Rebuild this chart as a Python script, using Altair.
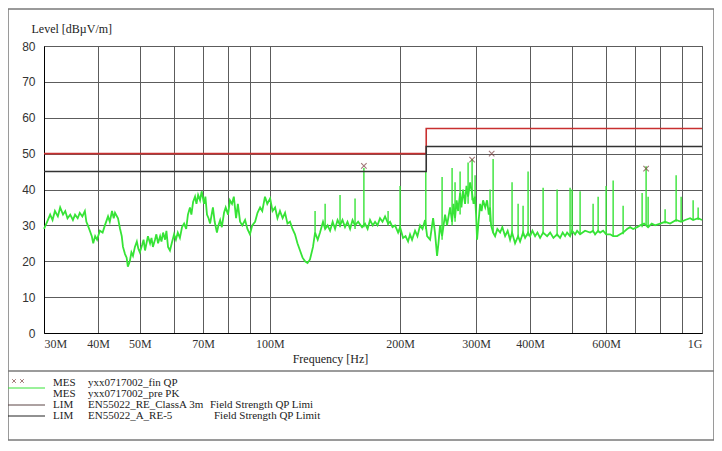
import altair as alt
import pandas as pd

# ---------------- data ----------------
# PK pre-scan trace (frequency in MHz, level in dBuV/m)
freq_mhz = [30.0, 30.5, 31.0, 31.4, 31.8, 32.3, 32.7, 33.2, 33.6, 34.0, 34.5, 35.0, 35.4, 35.9, 36.3, 36.8,
            37.3, 37.6, 37.9, 38.3, 38.7, 39.0, 39.4, 39.8, 40.4, 41.0, 41.5, 42.2, 42.6, 43.1, 43.5, 43.8,
            44.5, 45.0, 45.4, 45.7, 46.2, 46.6, 46.9, 47.4, 47.8, 48.2, 48.7, 49.2, 49.6, 50.0, 50.6, 51.0,
            51.4, 51.8, 52.2, 52.8, 53.2, 53.6, 54.2, 54.6, 55.1, 55.7, 56.1, 56.6, 57.2, 57.6, 58.1, 58.7,
            59.4, 60.0, 60.6, 61.2, 61.9, 62.6, 63.3, 64.0, 64.6, 65.3, 65.8, 66.4, 67.1, 67.6, 68.2, 68.9,
            69.5, 70.4, 70.9, 71.5, 72.1, 72.7, 73.3, 73.8, 74.5, 75.4, 76.0, 76.7, 77.4, 78.3, 79.0, 80.0,
            80.8, 81.7, 82.5, 83.5, 84.3, 85.3, 86.3, 87.6, 88.7, 89.9, 91.0, 92.4, 93.6, 94.9, 96.0, 97.4,
            98.6, 100.1, 101.4, 102.8, 104.1, 105.5, 107.0, 108.4, 109.8, 111.3, 112.8, 114.3, 115.8, 117.4,
            119.0, 120.6, 122.2, 123.8, 125.8, 127.2, 129.0, 130.6, 132.7, 134.2, 136.0, 137.8, 139.7, 141.5,
            143.4, 145.3, 147.2, 149.2, 151.2, 153.3, 155.3, 157.4, 160.0, 163.4, 166.0, 168.3, 170.5, 173.0,
            175.1, 177.4, 179.8, 182.2, 184.7, 187.7, 189.7, 192.2, 194.8, 198.0, 200.1, 203.3, 206.0, 208.8,
            211.0, 213.3, 216.7, 219.5, 222.6, 225.5, 228.6, 231.1, 234.8, 238.6, 241.0, 243.7, 245.5, 247.6,
            250.3, 254.3, 257.0, 261.2, 264.0, 266.0, 268.2, 270.5, 272.6, 275.5, 277.5, 279.9, 282.9, 285.0,
            287.5, 290.6, 293.7, 296.0, 298.4, 300.0, 301.6, 304.0, 306.5, 309.0, 311.4, 315.0, 318.1, 321.0,
            323.2, 325.0, 328.5, 332.0, 336.0, 341.0, 345.0, 350.2, 355.0, 359.6, 363.4, 369.3, 375.3, 379.3,
            385.4, 389.6, 395.8, 400.1, 405.0, 410.9, 416.0, 422.0, 428.8, 438.1, 445.2, 453.0, 462.0, 469.4,
            476.0, 482.1, 487.3, 495.1, 500.4, 508.5, 514.0, 522.2, 536.3, 550.9, 559.7, 565.7, 574.9, 581.0,
            590.4, 599.9, 612.9, 622.8, 636.2, 646.3, 656.8, 670.9, 681.7, 692.7, 707.7, 719.1, 734.5, 750.4,
            765.0, 778.9, 800.0, 821.5, 843.7, 871.2, 894.7, 914.0, 938.7, 953.8, 979.6, 1000.0]
level_pk = [29.0, 31.0, 33.0, 31.5, 34.0, 32.5, 35.0, 33.0, 34.0, 32.0, 33.0, 31.5, 33.0, 32.0, 33.5, 32.5,
            34.0, 31.0, 30.0, 28.5, 27.0, 25.0, 27.0, 26.0, 28.5, 28.0, 30.0, 32.5, 31.0, 34.0, 32.0, 33.5,
            32.0, 29.0, 27.0, 24.0, 22.0, 21.0, 18.5, 20.0, 22.5, 21.5, 24.0, 25.5, 23.5, 22.5, 24.5, 26.0,
            23.0, 25.0, 27.0, 25.0, 26.5, 24.0, 26.0, 27.5, 25.0, 27.0, 25.5, 28.0, 26.0, 28.5, 24.0, 23.0,
            25.5, 27.5, 26.0, 28.0, 26.5, 29.5, 30.5, 29.0, 33.0, 35.0, 33.0, 36.5, 38.0, 36.0, 38.5, 37.0,
            39.5, 36.0, 38.0, 33.0, 32.0, 30.5, 33.0, 35.0, 31.0, 28.0, 30.0, 31.5, 29.5, 33.5, 35.0, 33.0,
            37.0, 36.0, 38.0, 32.0, 36.0, 31.0, 30.0, 31.5, 29.0, 27.5, 30.0, 31.0, 33.5, 35.0, 34.0, 38.0,
            36.0, 37.5, 34.0, 35.0, 32.0, 34.0, 32.0, 33.5, 30.5, 31.0, 29.0, 27.5, 25.0, 23.0,
            21.0, 20.0, 19.5, 20.5, 24.0, 28.0, 26.0, 28.0, 31.0, 29.0, 30.0, 28.5, 31.0, 29.0,
            31.5, 30.0, 31.5, 29.5, 31.0, 29.0, 31.5, 30.0, 31.0, 29.5, 30.5, 29.0, 31.5, 30.0,
            31.0, 30.0, 32.0, 31.0, 32.5, 30.5, 31.0, 29.5, 30.0, 28.0, 29.5, 26.5, 27.0, 25.5,
            27.5, 26.0, 28.5, 27.0, 30.0, 29.0, 31.5, 27.0, 26.0, 32.0, 28.0, 21.5, 25.0, 30.0,
            27.0, 33.0, 30.0, 35.0, 31.0, 36.0, 32.0, 37.0, 34.0, 39.0, 35.0, 40.0, 36.0, 41.0,
            38.0, 42.0, 39.0, 36.0, 38.0, 33.0, 26.0, 31.0, 36.0, 34.0, 37.0, 35.0, 37.0, 33.0,
            35.0, 30.0, 28.0, 27.0, 29.0, 28.0, 29.5, 27.0, 28.5, 26.0, 28.0, 25.0, 27.0, 25.5,
            28.0, 26.5, 28.0, 27.0, 28.5, 27.0, 28.0, 26.5, 28.0, 27.0, 28.0, 26.5, 27.5, 26.5,
            28.0, 27.0, 28.0, 27.0, 28.5, 27.5, 28.5, 27.5, 28.5, 28.0, 28.5, 27.5, 28.5, 28.0,
            28.5, 27.5, 27.5, 27.0, 27.0, 27.5, 28.0, 29.0, 29.5, 29.0, 29.5, 30.0, 30.5, 29.5,
            30.5, 30.0, 30.5, 31.0, 30.5, 31.5, 31.0, 31.5, 32.0, 31.5, 32.0, 31.5]

# narrow emission spikes of the PK trace
spike_freq = [127.2, 134.2, 145.3, 157.4, 165.0, 187.7, 200.1, 229.5, 250.3, 264.0, 268.2, 275.5, 287.5,
              293.7, 298.4, 323.2, 328.5, 363.4, 375.3, 385.4, 395.8, 428.8, 462.0, 495.1, 500.4, 522.2,
              559.7, 574.9, 599.9, 622.8, 656.8, 726.8, 742.4, 750.4, 821.5, 871.2, 894.7, 953.8, 979.6]
spike_base = [27.0, 29.0, 29.5, 29.0, 29.5, 30.0, 28.0, 29.0, 26.0, 30.0, 31.0, 33.0, 36.0,
              37.0, 36.0, 31.0, 28.0, 27.0, 26.5, 27.0, 27.0, 27.5, 27.0, 27.5, 28.0, 27.5,
              28.0, 28.0, 27.5, 27.0, 27.5, 29.5, 30.0, 29.5, 30.5, 31.0, 31.0, 31.5, 31.5]
spike_peak = [34.0, 36.0, 38.5, 37.5, 46.0, 34.0, 41.0, 45.0, 43.5, 46.0, 42.0, 45.0, 47.5,
              48.5, 44.0, 40.0, 48.5, 42.0, 36.0, 35.5, 45.0, 40.5, 40.0, 40.5, 40.0, 39.5,
              36.0, 38.0, 41.0, 42.5, 35.5, 39.0, 46.5, 38.0, 34.5, 44.0, 38.0, 37.0, 35.0]

# QP final measurement points
qp_freq = [165.0, 293.7, 326.0, 742.4]
qp_level = [46.6, 48.3, 50.0, 45.8]

# limit lines
lim_freq = [30, 230, 230, 1000]
lim_classA = [50, 50, 57, 57]
lim_re5 = [45, 45, 52, 52]

x_tick_values = [30, 40, 50, 60, 70, 80, 90, 100, 200, 300, 400, 500, 600, 700, 800, 900, 1000]
x_tick_labels = ["30M", "40M", "50M", "", "70M", "", "", "100M", "200M", "300M", "400M", "",
                 "600M", "", "", "", "1G"]
y_tick_values = [0, 10, 20, 30, 40, 50, 60, 70, 80]

legend_col1 = ["MES", "MES", "LIM", "LIM"]
legend_col2 = ["yxx0717002_fin QP", "yxx0717002_pre PK", "EN55022_RE_ClassA 3m", "EN55022_A_RE-5"]
legend_col3 = ["", "", "Field Strength QP Limi", "Field Strength QP Limit"]

# ---------------- styling ----------------
GREEN = "#36e336"
RED = "#c83030"
DARK = "#333333"
MARK = "#7b4040"
GRID = "#5c5c5c"
SERIF = "Liberation Serif"
SANS = "Liberation Sans"

W, H = 658, 287
PAD = {"left": 36, "top": 38, "right": 12, "bottom": 110}

label_expr = " : ".join(
    f"datum.value == {v} ? '{l}'" for v, l in zip(x_tick_values, x_tick_labels)
) + " : ''"

xscale = alt.Scale(type="log", domain=[30, 1000], nice=False)
yscale = alt.Scale(domain=[0, 80], nice=False)

x_axis = alt.Axis(values=x_tick_values, labelExpr=label_expr, labelFlush=True, grid=True,
                  ticks=False, labelPadding=5, labelFont=SERIF, labelFontSize=12,
                  labelColor="#333", title="Frequency [Hz]", titleFont=SERIF, titleFontSize=12,
                  titleFontWeight="normal", titleColor="#222", titleX=286, titleY=29,
                  titleBaseline="alphabetic", titleAlign="center", gridColor=GRID,
                  domainColor="#000")
y_axis = alt.Axis(values=y_tick_values, grid=True, ticks=False, labelPadding=9, labelFont=SANS,
                  labelFontSize=12, labelColor="#333", title="Level [dBµV/m]", titleFont=SERIF,
                  titleFontSize=12, titleFontWeight="normal", titleColor="#222", titleAngle=0,
                  titleAlign="left", titleBaseline="alphabetic", titleX=-13, titleY=-14,
                  gridColor=GRID, domainColor="#000")


def X(field):
    return alt.X(f"{field}:Q", scale=xscale, axis=x_axis)


def Y(field):
    return alt.Y(f"{field}:Q", scale=yscale, axis=y_axis)


one = pd.DataFrame({"k": [0]})

frame = alt.Chart(one).mark_rect(fill="transparent", stroke="#7a7a7a", strokeWidth=1.5).encode(
    x=alt.value(-36), x2=alt.value(670), y=alt.value(-37), y2=alt.value(394))
separator = alt.Chart(one).mark_rule(stroke="#7a7a7a", strokeWidth=1.5).encode(
    x=alt.value(-36), x2=alt.value(670), y=alt.value(325))

df_trace = pd.DataFrame({"freq": freq_mhz, "level": level_pk, "i": range(len(freq_mhz))})
trace = alt.Chart(df_trace).mark_line(color=GREEN, strokeWidth=1.8).encode(
    x=X("freq"), y=Y("level"), order="i:Q")

df_spk = pd.DataFrame({"freq": spike_freq, "base": spike_base, "peak": spike_peak})
spikes = alt.Chart(df_spk).mark_rule(color=GREEN, strokeWidth=1.4).encode(
    x=X("freq"), y=Y("base"), y2="peak:Q")

df_lim = pd.DataFrame({"freq": lim_freq * 2, "level": lim_classA + lim_re5,
                       "series": ["A"] * 4 + ["B"] * 4, "i": list(range(4)) * 2})
limits = alt.Chart(df_lim).mark_line(strokeWidth=1.6).encode(
    x=X("freq"), y=Y("level"), order="i:Q",
    color=alt.Color("series:N", scale=alt.Scale(domain=["A", "B"], range=[RED, DARK]), legend=None))

xshape = "M-1,-1L1,1M1,-1L-1,1"
df_qp = pd.DataFrame({"freq": qp_freq, "level": qp_level})
qp = alt.Chart(df_qp).mark_point(shape=xshape, size=30, filled=False, stroke=MARK,
                                 strokeWidth=1.1).encode(x=X("freq"), y=Y("level"))

layers = [trace, spikes, limits, qp, frame, separator]

# legend block (layout positions in plot coordinates)
ROW_Y0, ROW_H = 337, 11
COL_X = [9, 44, 166]
for i in range(4):
    for j, col in enumerate([legend_col1, legend_col2, legend_col3]):
        t = col[i]
        if not t:
            continue
        dx = 4 if (j == 2 and i == 3) else 0
        layers.append(
            alt.Chart(pd.DataFrame({"t": [t]})).mark_text(
                font=SERIF, fontSize=11, color="#222", align="left", baseline="middle").encode(
                text="t:N", x=alt.value(COL_X[j] + dx), y=alt.value(ROW_Y0 + i * ROW_H)))

for mx in (-30, -22):
    layers.append(alt.Chart(one).mark_point(shape=xshape, size=14, filled=False, stroke=MARK,
                                            strokeWidth=1).encode(x=alt.value(mx), y=alt.value(335)))
for yy, c in ((342, GREEN), (ROW_Y0 + 2 * ROW_H, "#5a4444"), (ROW_Y0 + 3 * ROW_H, "#222")):
    layers.append(alt.Chart(one).mark_rule(stroke=c, strokeWidth=1).encode(
        x=alt.value(-36), x2=alt.value(1), y=alt.value(yy)))

chart = alt.layer(*layers).properties(
    width=W, height=H, autosize=alt.AutoSizeParams(type="none"), padding=PAD,
    background="white"
).configure_view(stroke=GRID)

chart.save("out.html", embed_options={"renderer": "svg", "actions": False})
